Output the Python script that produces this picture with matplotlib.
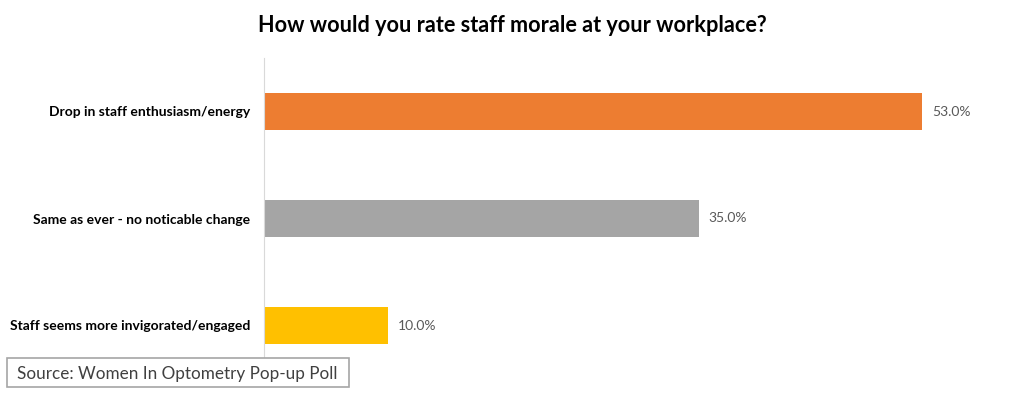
import matplotlib.pyplot as plt
from matplotlib.patches import Rectangle

# 调查数据
categories = ["Drop in staff enthusiasm/energy",
              "Same as ever - no noticable change",
              "Staff seems more invigorated/engaged"]
values = [53.0, 35.0, 10.0]
colors = ["#ED7D31", "#A5A5A5", "#FFC000"]

plt.rcParams['font.family'] = ['Lato', 'DejaVu Sans']

W, H = 1024, 395
fig = plt.figure(figsize=(W / 100, H / 100), dpi=100)
ax = fig.add_axes([264 / W, 16 / H, 745 / W, 321 / H])

y = list(range(len(categories)))
ax.barh(y, values, height=0.346, color=colors)
for yi, v in zip(y, values):
    ax.text(v + 0.8, yi, f"{v:.1f}%", va="center", ha="left",
            fontsize=10, color="#595959")

ax.set_xlim(0, 60)
ax.set_ylim(2.5, -0.5)
ax.set_yticks(y)
ax.set_yticklabels(categories, fontsize=10, fontweight="bold")
ax.tick_params(axis="y", length=0, pad=10)
ax.set_xticks([])
for s in ["top", "right", "bottom"]:
    ax.spines[s].set_visible(False)
ax.spines["left"].set_color("#D9D9D9")

fig.text(0.5, 1 - 25 / H, "How would you rate staff morale at your workplace?",
         ha="center", va="center", fontsize=15.6, fontweight="bold")

# 来源说明框
fig.patches.append(Rectangle((7 / W, 1 - 387 / H), 342 / W, 29 / H,
                             transform=fig.transFigure, fc="white",
                             ec="#A6A6A6", lw=1.2, zorder=5))
fig.text(17 / W, 1 - 374 / H, "Source: Women In Optometry Pop-up Poll",
         ha="left", va="center", fontsize=12.3, color="#404040", zorder=6)

fig.savefig("out.png", dpi=100)
